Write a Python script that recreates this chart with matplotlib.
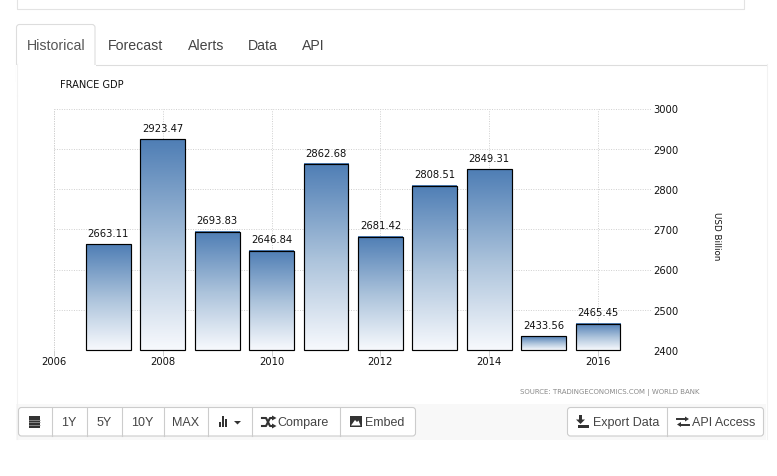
import numpy as np
import matplotlib
matplotlib.use("Agg")
import matplotlib.pyplot as plt
from matplotlib.patches import Rectangle, FancyBboxPatch, Polygon
from matplotlib.colors import LinearSegmentedColormap

years = [2007, 2008, 2009, 2010, 2011, 2012, 2013, 2014, 2015, 2016]
gdp = [2663.11, 2923.47, 2693.83, 2646.84, 2862.68, 2681.42, 2808.51, 2849.31, 2433.56, 2465.45]
x_ticks = [2006, 2008, 2010, 2012, 2014, 2016]
y_ticks = [2400, 2500, 2600, 2700, 2800, 2900, 3000]
title = "FRANCE GDP"
y_label = "USD Billion"
source = "SOURCE: TRADINGECONOMICS.COM | WORLD BANK"
tabs = ["Historical", "Forecast", "Alerts", "Data", "API"]

W, H = 777, 477
fig = plt.figure(figsize=(W / 100, H / 100), dpi=100, facecolor="white")

# page chrome, in pixel coordinates
ui = fig.add_axes([0, 0, 1, 1], zorder=0)
ui.set_xlim(0, W)
ui.set_ylim(H, 0)
ui.axis("off")
BORDER = "#dddddd"
TXT = "#444444"
SANS = "Liberation Sans"

ui.plot([16.5, 16.5, 743.5, 743.5], [0, 9.5, 9.5, 0], color="#e3e3e3", lw=0.8)
ui.add_patch(Rectangle((16, 65), 750, 375, fc="white", ec="none"))
ui.add_patch(Rectangle((16, 405), 750, 36, fc="#f8f8f8", ec="none"))
ui.plot([16.5, 16.5], [65, 440], color="#f2f2f2", lw=0.8)
ui.plot([766.5, 766.5], [65, 440], color="#f2f2f2", lw=0.8)
ui.plot([95, 766], [65.5, 65.5], color=BORDER, lw=0.8)
ui.add_patch(FancyBboxPatch((16.5, 25.5), 78.5, 60, boxstyle="round,pad=0,rounding_size=3",
                            fc="white", ec=BORDER, lw=0.8))
ui.add_patch(Rectangle((16, 66), 80, 30, fc="white", ec="none", zorder=2))
ui.plot([16.5, 16.5], [65, 96], color="#f2f2f2", lw=0.8, zorder=3)
tab_x = [27, 108, 188, 248, 302]
for i, (t, x) in enumerate(zip(tabs, tab_x)):
    ui.text(x, 45.5, t, family=SANS, fontsize=10.2, color="#555555" if i == 0 else TXT,
            ha="left", va="center", zorder=3)


def group(x0, x1, seps):
    ui.add_patch(FancyBboxPatch((x0, 408.5), x1 - x0, 28.5, boxstyle="round,pad=0,rounding_size=3",
                                fc="white", ec="#cccccc", lw=0.8, zorder=3))
    for s in seps:
        ui.plot([s, s], [409, 437], color="#cccccc", lw=0.8, zorder=4)


group(18.5, 415.5, [51.5, 86.5, 121.5, 163.5, 207.5, 251.5, 339.5])
group(567.5, 763.5, [666.5])

for t, x in [("1Y", 69), ("5Y", 104.5), ("10Y", 142.5), ("MAX", 185.5)]:
    ui.text(x, 423, t, family=SANS, fontsize=9, color=TXT, ha="center", va="center", zorder=5)
for t, x in [("Compare", 277), ("Embed", 365), ("Export Data", 593), ("API Access", 692)]:
    ui.text(x, 423, t, family=SANS, fontsize=9, color=TXT, ha="left", va="center", zorder=5)

ICON = "#333333"
# calendar
ui.add_patch(Rectangle((28.5, 417), 11, 11.5, fc=ICON, ec="none", zorder=5))
for yy in (421, 423.4, 425.8):
    ui.plot([28.5, 39.5], [yy, yy], color="#aaaaaa", lw=0.5, zorder=6)
# bars + caret
for x, y0, w in [(218.5, 423, 2), (221.5, 417, 2), (224.5, 420, 2.5)]:
    ui.add_patch(Rectangle((x, y0), w, 428 - y0, fc=ICON, ec="none", zorder=5))
ui.add_patch(Polygon([[234, 422], [241, 422], [237.5, 425.5]], fc=ICON, ec="none", zorder=5))
# compare (crossing arrows)
ui.plot([262, 266, 270, 273], [419, 419, 427, 427], color=ICON, lw=1.5, zorder=5)
ui.plot([262, 266, 270, 273], [427, 427, 419, 419], color=ICON, lw=1.5, zorder=5)
ui.add_patch(Polygon([[272, 416.5], [276.5, 419], [272, 421.5]], fc=ICON, ec="none", zorder=5))
ui.add_patch(Polygon([[272, 424.5], [276.5, 427], [272, 429.5]], fc=ICON, ec="none", zorder=5))
# picture
ui.add_patch(Rectangle((349.5, 417), 12, 11, fc=ICON, ec="none", zorder=5))
ui.add_patch(Polygon([[351, 426.5], [355, 421], [357, 423], [358.5, 421.5], [360.5, 426.5]], fc="white", ec="none", zorder=6))
# export
ui.add_patch(Polygon([[579, 416], [582, 416], [582, 420.5], [585, 420.5], [580.5, 425], [576, 420.5], [579, 420.5]],
                     fc=ICON, ec="none", zorder=5))
ui.add_patch(Rectangle((577.5, 426), 11, 2.5, fc=ICON, ec="none", zorder=5))
# api arrows
ui.plot([677, 686], [420, 420], color=ICON, lw=1.4, zorder=5)
ui.add_patch(Polygon([[685, 417.5], [689, 420], [685, 422.5]], fc=ICON, ec="none", zorder=5))
ui.plot([680, 689], [425.5, 425.5], color=ICON, lw=1.4, zorder=5)
ui.add_patch(Polygon([[681, 423], [677, 425.5], [681, 428]], fc=ICON, ec="none", zorder=5))

# chart: x=2006 at px 54, 54.4 px per year; y=3000 at 109.5, y=2400 at 351
left, right, top, bottom = 54.0, 652.0, 109.5, 351.0
ax = fig.add_axes([left / W, 1 - bottom / H, (right - left) / W, (bottom - top) / H], zorder=1)
ax.patch.set_alpha(0)
for s in ax.spines.values():
    s.set_visible(False)
ax.set_axisbelow(True)
ax.set_xticks(x_ticks)
ax.set_yticks(y_ticks)
GRID = "#cfcfcf"
ax.grid(True, color=GRID, lw=0.7, ls=(0, (1, 1.5)))
ax.plot([2006, 2006], [2400, 3000], color=GRID, lw=0.7, ls=(0, (1, 1.5)), zorder=0)
ax.yaxis.tick_right()
ax.tick_params(axis="y", length=0, pad=1, labelsize=7.2, labelcolor="#111111")
ax.tick_params(axis="x", length=4, width=0.7, color=GRID, pad=0, labelsize=7.2, labelcolor="#111111")

cmap = LinearSegmentedColormap.from_list("barfill", ["#4f7eb5", "#a9c1da", "#f7f9fd"])
grad = np.linspace(0, 1, 128).reshape(-1, 1)
bar_width = 0.82
bars = ax.bar(years, np.array(gdp) - 2400, bottom=2400, width=bar_width, fc="none",
              ec="black", lw=0.85, zorder=3, clip_on=False)
for bar, v in zip(bars, gdp):
    x0 = bar.get_x()
    ax.imshow(grad, cmap=cmap, aspect="auto", origin="upper", zorder=2,
              extent=(x0, x0 + bar.get_width(), 2400, v))
    ax.annotate(f"{v:.2f}", (bar.get_x() + bar.get_width() / 2, v), xytext=(0, 4.5),
                textcoords="offset points", ha="center", va="bottom",
                fontsize=7.2, color="#111111", zorder=4)
ax.set_xlim(2006, 2006 + (right - left) / 54.4)
ax.set_ylim(2400, 3000)

fig.text(60 / W, 1 - 84.5 / H, title, fontsize=7.1, color="#111111", ha="left", va="center", zorder=5)
fig.text(717 / W, 1 - 236.5 / H, y_label, fontsize=6.3, rotation=270, color="#111111",
         ha="center", va="center", zorder=5)
fig.text(520 / W, 1 - 392.5 / H, source, fontsize=5.03, color="#8a8a8a", ha="left", va="center", zorder=5)

fig.savefig("out.png", dpi=100, facecolor="white")
